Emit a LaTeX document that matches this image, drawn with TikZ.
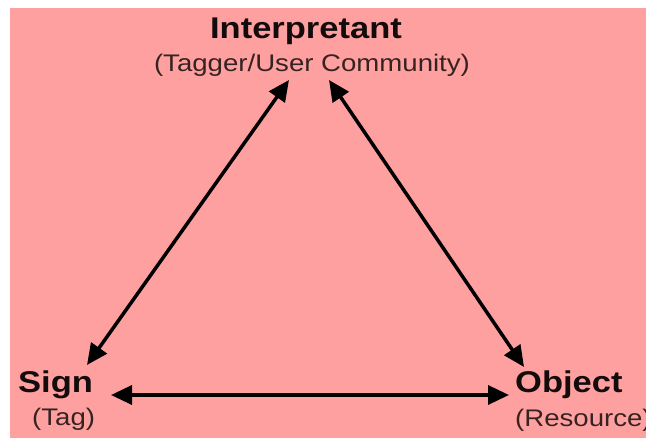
\documentclass[tikz,border=0pt]{standalone}
\usepackage{fontspec}
\setmainfont{Liberation Sans}
\usetikzlibrary{arrows.meta}
\definecolor{bgpink}{RGB}{255,160,160}
\definecolor{inkcol}{RGB}{20,12,12}
\tikzset{
  title/.style={inner sep=0pt, text=inkcol, font=\fontsize{30}{32}\selectfont\bfseries},
  subtitle/.style={inner sep=0pt, text=inkcol!85!bgpink, font=\fontsize{24}{26}\selectfont},
  link/.style={line width=3.5pt, draw=black, {Triangle[length=21pt,width=19pt]}-{Triangle[length=21pt,width=19pt]}}
}
\newcommand{\wide}[1]{\scalebox{1.15}[1]{#1}}
\begin{document}
\begin{tikzpicture}[x=1pt,y=1pt]
\useasboundingbox (0,0) rectangle (646,438);
\fill[white] (0,0) rectangle (646,438);
\fill[bgpink] (10,0) rectangle (646,430);

\node[title, anchor=base] (interp) at (306,399) {\wide{Interpretant}};
\node[subtitle, anchor=base] (interpsub) at (312,366) {\wide{(Tagger/User Community)}};
\node[title, anchor=base west] (sign) at (18,45) {\wide{Sign}};
\node[subtitle, anchor=base west] (signsub) at (32,12) {\wide{(Tag)}};
\node[title, anchor=base west] (object) at (515,45) {\wide{Object}};
\node[subtitle, anchor=base west] (objectsub) at (515,11) {\wide{(Resource)}};

\coordinate (iL) at (289,358);
\coordinate (iR) at (329,358);
\coordinate (sT) at (87,73);
\coordinate (sR) at (111,43);
\coordinate (oT) at (524,71);
\coordinate (oL) at (509,43);

\draw[link] (sT) -- (iL);
\draw[link] (iR) -- (oT);
\draw[link] (sR) -- (oL);
\end{tikzpicture}
\end{document}
